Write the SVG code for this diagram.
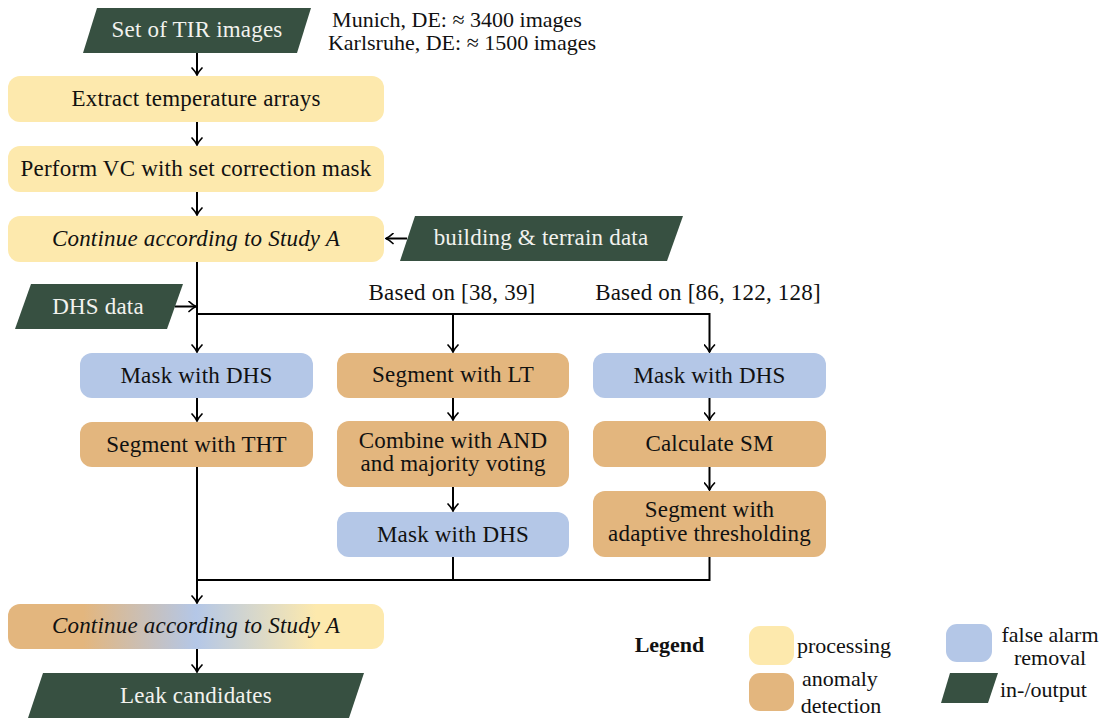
<svg xmlns="http://www.w3.org/2000/svg" width="1108" height="719" viewBox="0 0 1108 719" font-family="'Liberation Serif', 'Times New Roman', serif">
<defs>
<style>
text{font-family:"Liberation Serif","Times New Roman",serif;font-size:23px;fill:#111;letter-spacing:0.2px;}
.c{text-anchor:middle;}
.w{fill:#f2f2ee;}
.it{font-style:italic;}
.b{font-weight:bold;font-size:22px;letter-spacing:0;}
.sm{font-size:22px;letter-spacing:0;}
.proc{fill:#fde9ad;}
.anom{fill:#e3b67e;}
.fa{fill:#b4c7e7;}
.io{fill:#375041;}
.ln{fill:none;stroke:#000;stroke-width:2;}
.ar{marker-end:url(#arr);}
</style>
<marker id="arr" viewBox="-9 -6 10 12" refX="0" refY="0" markerWidth="10" markerHeight="12" orient="auto" markerUnits="userSpaceOnUse">
<path d="M-7,-5 Q-3,-1.2 0,0 Q-3,1.2 -7,5" fill="none" stroke="#000" stroke-width="1.7" stroke-linecap="round"/>
</marker>
<linearGradient id="grad" x1="0" y1="0" x2="1" y2="0">
<stop offset="0" stop-color="#e3b67e"/>
<stop offset="0.2" stop-color="#e3b67e"/>
<stop offset="0.5" stop-color="#b4c7e7"/>
<stop offset="0.82" stop-color="#fde9ad"/>
<stop offset="1" stop-color="#fde9ad"/>
</linearGradient>
</defs>
<rect width="1108" height="719" fill="#fff"/>

<g id="connectors">
<path class="ln ar" d="M197,53 V75"/>
<path class="ln ar" d="M197,122 V145"/>
<path class="ln ar" d="M197,192 V215"/>
<path class="ln ar" d="M407,238.5 H386"/>
<path class="ln ar" d="M197,262 V352"/>
<path class="ln ar" d="M175,306.5 H196"/>
<path class="ln ar" d="M197,314 H709.5 V352"/>
<path class="ln ar" d="M453,314 V352"/>
<path class="ln ar" d="M197,398 V421"/>
<path class="ln ar" d="M453,398 V420"/>
<path class="ln ar" d="M453,487 V511"/>
<path class="ln ar" d="M709.5,398 V420"/>
<path class="ln ar" d="M709.5,467 V490"/>
<path class="ln ar" d="M197,467 V603"/>
<path class="ln" d="M453,557 V580 H197"/>
<path class="ln" d="M709.5,557 V580 H453"/>
<path class="ln ar" d="M197,649 V672"/>
</g>

<g id="n-tir">
<polygon class="io" points="97,8 311,8 297,53 83,53"/>
<text class="c w" x="197" y="37">Set of TIR images</text>
</g>
<g id="n-note">
<text class="c sm" x="457" y="27">Munich, DE: ≈ 3400 images</text>
<text class="c sm" x="462" y="50">Karlsruhe, DE: ≈ 1500 images</text>
</g>
<g id="n-extract">
<rect class="proc" x="8" y="76" width="376" height="46" rx="12"/>
<text class="c" x="196" y="106">Extract temperature arrays</text>
</g>
<g id="n-vc">
<rect class="proc" x="8" y="146" width="376" height="46" rx="12"/>
<text class="c" x="196" y="176">Perform VC with set correction mask</text>
</g>
<g id="n-continue1">
<rect class="proc" x="8" y="216" width="376" height="46" rx="12"/>
<text class="c it" x="196" y="246">Continue according to Study A</text>
</g>
<g id="n-building">
<polygon class="io" points="415,216 683,216 667,261 400,261"/>
<text class="c w" x="541" y="245">building &amp; terrain data</text>
</g>
<g id="n-dhs">
<polygon class="io" points="31,284 183,284 167,329 15,329"/>
<text class="c w" x="98" y="314">DHS data</text>
</g>
<g id="n-based1">
<text class="c" x="452" y="300">Based on [38, 39]</text>
</g>
<g id="n-based2">
<text class="c" x="708" y="300">Based on [86, 122, 128]</text>
</g>

<g id="n-mask1">
<rect class="fa" x="80" y="353" width="233" height="45" rx="12"/>
<text class="c" x="196.5" y="383">Mask with DHS</text>
</g>
<g id="n-tht">
<rect class="anom" x="80" y="422" width="233" height="45" rx="12"/>
<text class="c" x="196.5" y="452">Segment with THT</text>
</g>
<g id="n-lt">
<rect class="anom" x="337" y="353" width="232" height="45" rx="12"/>
<text class="c" x="453" y="382">Segment with LT</text>
</g>
<g id="n-combine">
<rect class="anom" x="337" y="421" width="232" height="66" rx="12"/>
<text class="c" x="453" y="448">Combine with AND</text>
<text class="c" x="453" y="471">and majority voting</text>
</g>
<g id="n-mask2">
<rect class="fa" x="337" y="512" width="232" height="45" rx="12"/>
<text class="c" x="453" y="542">Mask with DHS</text>
</g>
<g id="n-mask3">
<rect class="fa" x="593" y="353" width="233" height="45" rx="12"/>
<text class="c" x="709.5" y="383">Mask with DHS</text>
</g>
<g id="n-sm">
<rect class="anom" x="593" y="421" width="233" height="46" rx="12"/>
<text class="c" x="709.5" y="451">Calculate SM</text>
</g>
<g id="n-adaptive">
<rect class="anom" x="593" y="491" width="233" height="66" rx="12"/>
<text class="c" x="709.5" y="517">Segment with</text>
<text class="c" x="709.5" y="541">adaptive thresholding</text>
</g>

<g id="n-continue2">
<rect x="8" y="604" width="376" height="45" rx="12" fill="url(#grad)"/>
<text class="c it" x="196" y="633">Continue according to Study A</text>
</g>
<g id="n-leak">
<polygon class="io" points="43,673 364,673 349,718 28,718"/>
<text class="c w" x="196" y="703">Leak candidates</text>
</g>

<g id="legend">
<text class="c b" x="669.5" y="652">Legend</text>
<rect class="proc" x="749" y="626" width="45" height="39" rx="11"/>
<text class="sm" x="797" y="653">processing</text>
<rect class="fa" x="946" y="624" width="46" height="38" rx="11"/>
<text class="c sm" x="1050" y="642">false alarm</text>
<text class="c sm" x="1050" y="665">removal</text>
<rect class="anom" x="749" y="673" width="45" height="38" rx="11"/>
<text class="c sm" x="840" y="686">anomaly</text>
<text class="c sm" x="841" y="713">detection</text>
<polygon class="io" points="950,673 998,673 988,703 941,703"/>
<text class="sm" x="1000" y="697">in-/output</text>
</g>
</svg>
